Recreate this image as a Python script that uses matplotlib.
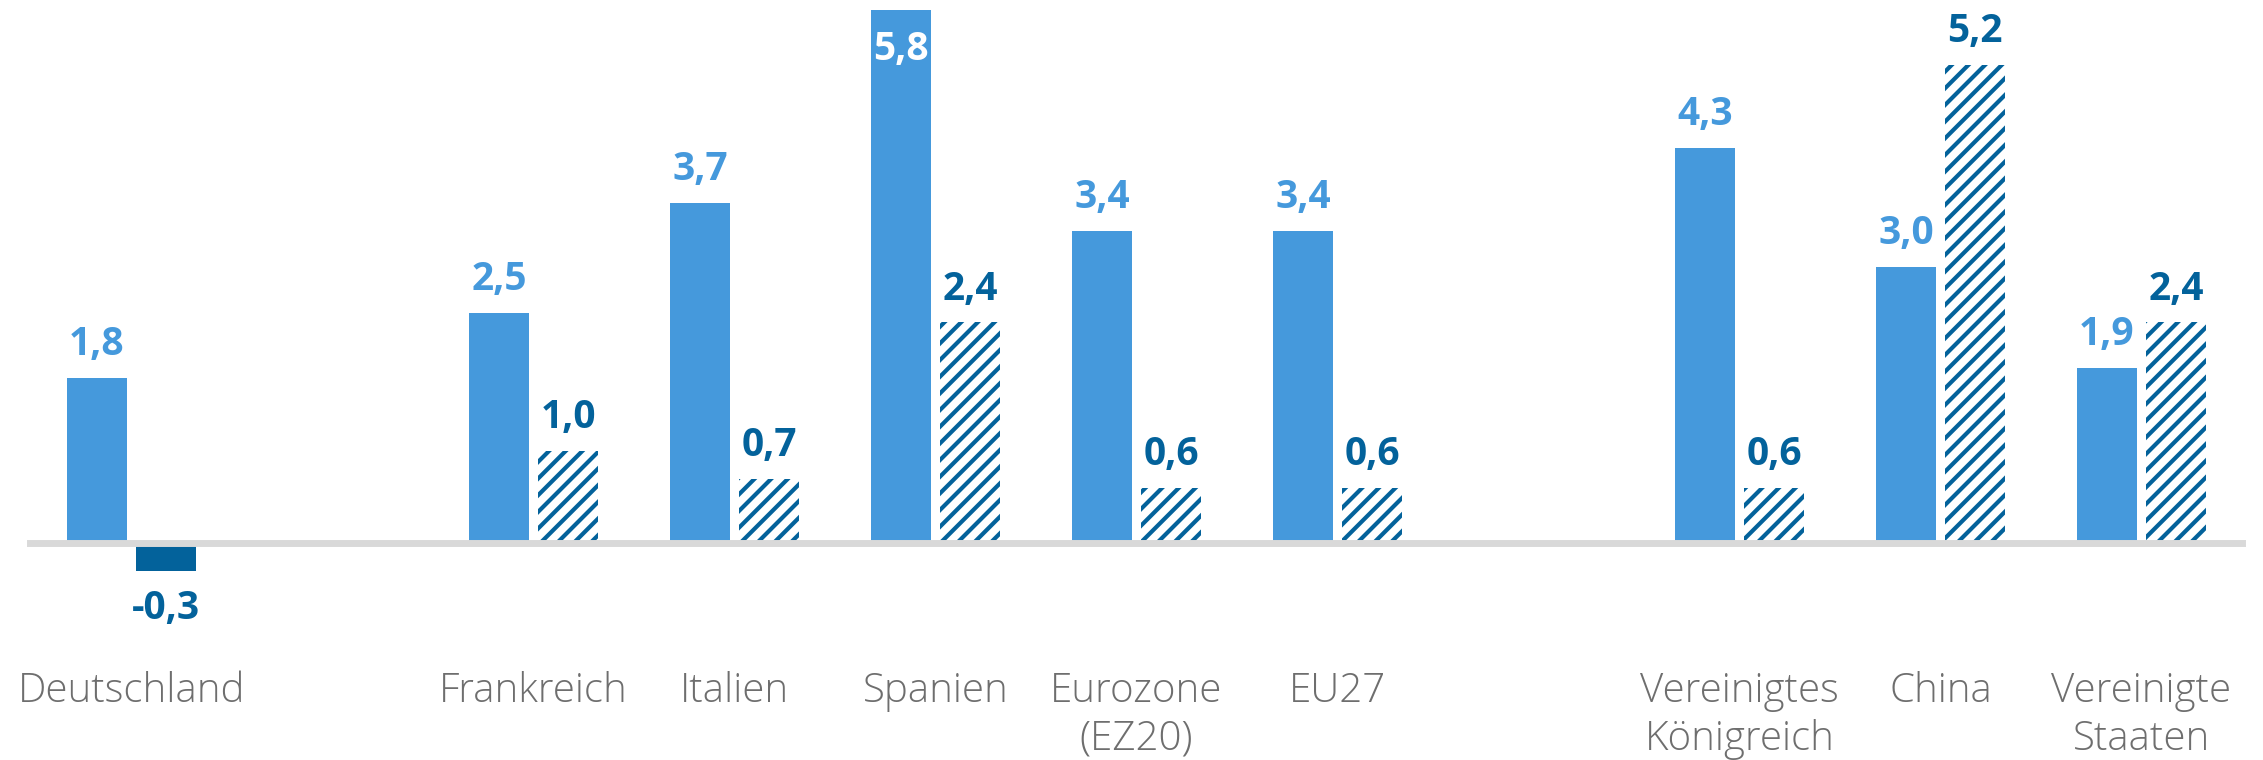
import matplotlib.pyplot as plt
import numpy as np

plt.rcParams['hatch.linewidth'] = 3.0

# Ländergruppen (Lücke zwischen den Gruppen)
gruppen = [
    ["Deutschland"],
    ["Frankreich", "Italien", "Spanien", "Eurozone\n(EZ20)", "EU27"],
    ["Vereinigtes\nKönigreich", "China", "Vereinigte\nStaaten"],
]
werte_a = [1.8, 2.5, 3.7, 5.8, 3.4, 3.4, 4.3, 3.0, 1.9]
werte_b = [-0.3, 1.0, 0.7, 2.4, 0.6, 0.6, 0.6, 5.2, 2.4]

hell = "#4599dc"
dunkel = "#03629b"
grau = "#6e6e6e"

# x-Positionen: ein leerer Platz zwischen den Gruppen
laender = []
pos = []
p = 0
for g in gruppen:
    for name in g:
        laender.append(name)
        pos.append(p)
        p += 1
    p += 1
pos = np.array(pos, dtype=float)

fig = plt.figure(figsize=(22.63, 7.6), dpi=100)
ax = fig.add_axes([0, 0, 1, 1])

w = 0.2985
off = 0.1716

ax.bar(pos - off, werte_a, width=w, color=hell, linewidth=0, zorder=2)
for x, v in zip(pos + off, werte_b):
    if v < 0:
        ax.bar(x, v, width=w, color=dunkel, linewidth=0, zorder=2)
    else:
        ax.bar(x, v, width=w, facecolor="white", edgecolor=dunkel,
               hatch="//", linewidth=0, zorder=2)

ax.axhline(0, xmin=0.0133, xmax=0.9907, color="#d9d9d9", lw=5.0, zorder=3)

vfont = dict(family=["Open Sans", "DejaVu Sans"], fontweight="bold", fontsize=28)

for x, v in zip(pos - off, werte_a):
    txt = f"{v:.1f}".replace(".", ",")
    if v > 5.5:
        ax.annotate(txt, (x, v), xytext=(0, -36), textcoords="offset points",
                    ha="center", va="baseline", color="white", **vfont)
    else:
        ax.annotate(txt, (x, v), xytext=(0, 16.5), textcoords="offset points",
                    ha="center", va="baseline", color=hell, **vfont)

for x, v in zip(pos + off, werte_b):
    txt = f"{v:.1f}".replace(".", ",")
    if v < 0:
        ax.annotate(txt, (x, v), xytext=(0, -35), textcoords="offset points",
                    ha="center", va="baseline", color=dunkel, **vfont)
    else:
        ax.annotate(txt, (x, v), xytext=(0, 16.5), textcoords="offset points",
                    ha="center", va="baseline", color=dunkel, **vfont)

# Beschriftung der Länder, Zeile für Zeile
for x, name in zip(pos, laender):
    for k, zeile in enumerate(name.split("\n")):
        ax.annotate(zeile, (x, 0), xytext=(0, -114.5 - 34.5 * k),
                    textcoords="offset points", ha="center", va="baseline",
                    color=grau, fontsize=29,
                    family=["Open Sans", "DejaVu Sans"], fontweight="light")

ax.set_xlim(-131.5 / 201, (2263 - 131.5) / 201)
ax.set_ylim(-(760 - 543) / 91.9, 543 / 91.9)
ax.axis("off")

fig.savefig("out.png", dpi=100)
